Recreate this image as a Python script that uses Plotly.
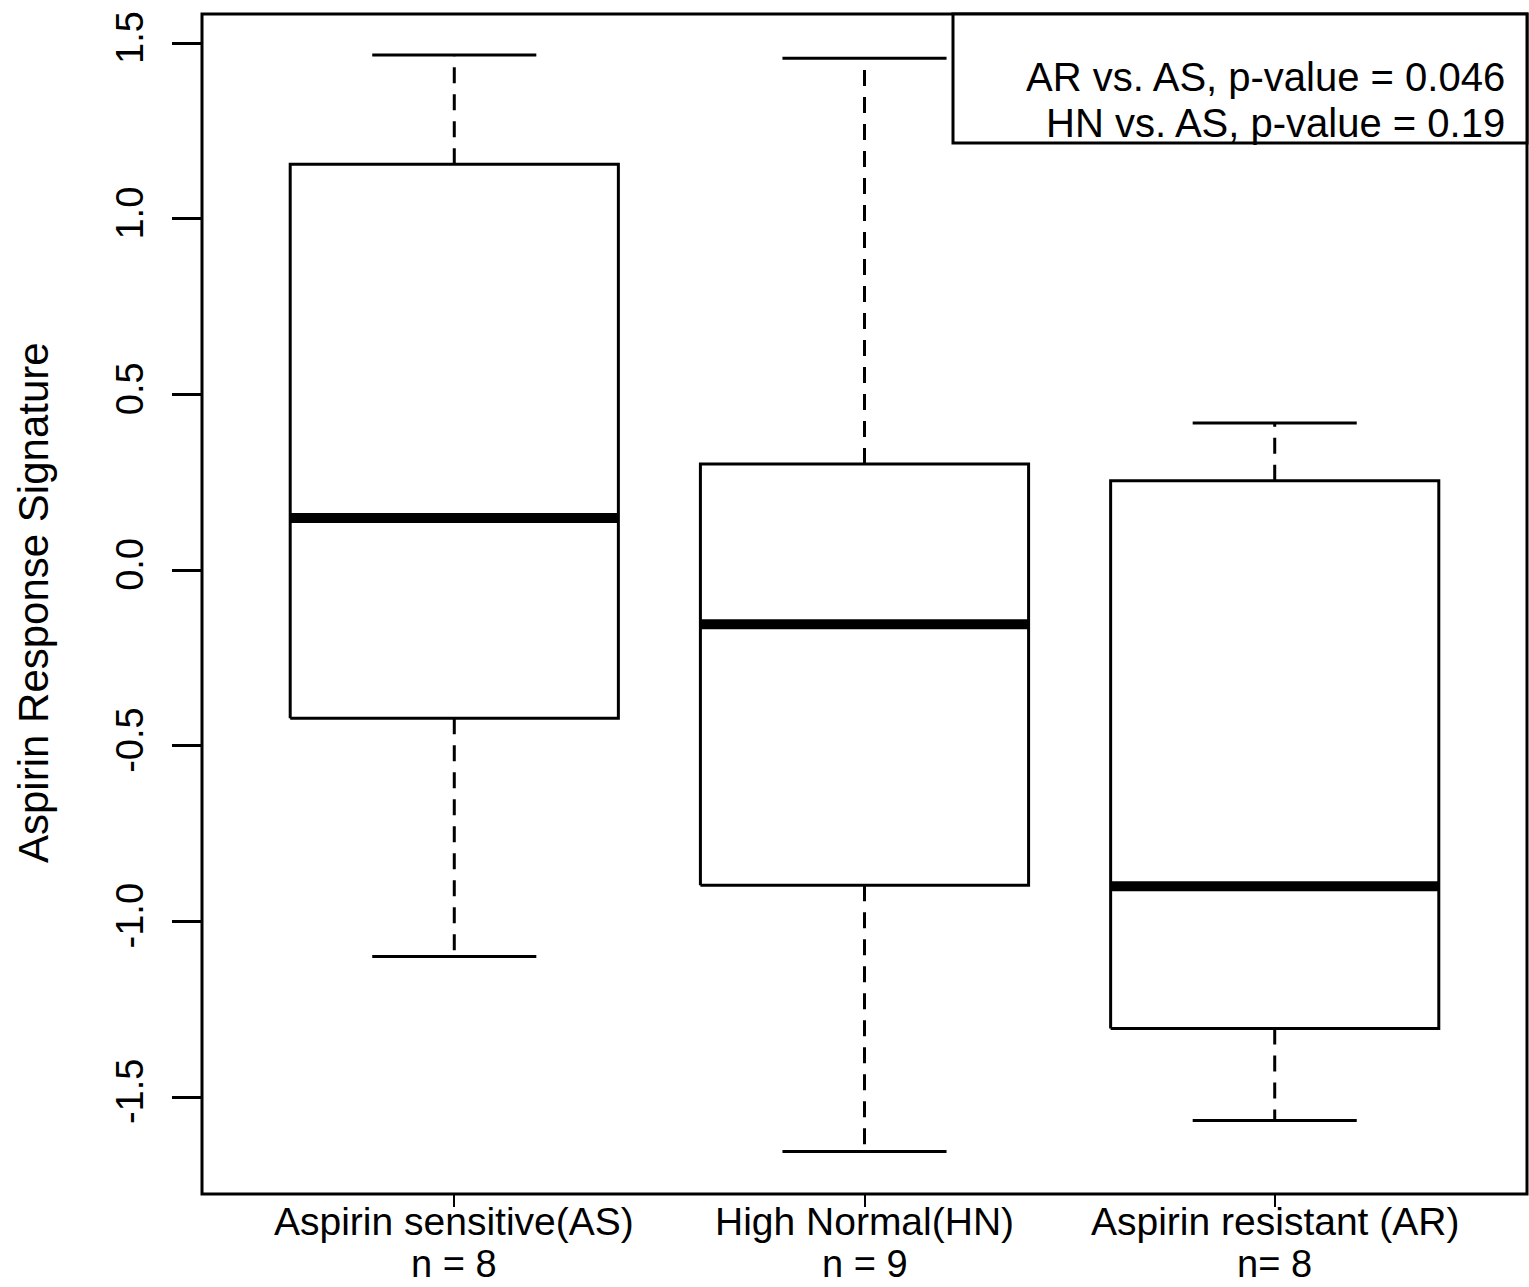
import plotly.graph_objects as go

# ---- data ----
categories = ["Aspirin sensitive(AS)", "High Normal(HN)", "Aspirin resistant (AR)"]
n_labels = ["n = 8", "n = 9", "n= 8"]
lower_whisker = [-1.10, -1.655, -1.567]
q1 = [-0.422, -0.897, -1.305]
median = [0.148, -0.154, -0.900]
q3 = [1.155, 0.302, 0.254]
upper_whisker = [1.466, 1.457, 0.419]
legend_lines = ["AR vs. AS, p-value = 0.046", "HN vs. AS, p-value = 0.19"]
y_ticks = [-1.5, -1.0, -0.5, 0.0, 0.5, 1.0, 1.5]
y_ticktext = ["-1.5", "-1.0", "-0.5", "0.0", "0.5", "1.0", "1.5"]

FONT = "Liberation Sans, Arial, sans-serif"
BOX_HALF = 0.4
CAP_HALF = 0.2
LW = 3

W, H = 1529, 1287
ML, MR, MT, MB = 202, 2, 14, 93
PW = W - ML - MR
PH = H - MT - MB


def py(pix):
    """pixel row -> paper y"""
    return 1 - (pix - MT) / PH


def px(pix):
    return (pix - ML) / PW


fig = go.Figure()

for i in range(len(categories)):
    x = i + 1
    # dashed whiskers
    fig.add_trace(go.Scatter(x=[x, x], y=[q3[i], upper_whisker[i]], mode="lines",
                             line=dict(color="black", width=LW, dash="16px,11px"),
                             hoverinfo="skip", showlegend=False))
    fig.add_trace(go.Scatter(x=[x, x], y=[q1[i], lower_whisker[i]], mode="lines",
                             line=dict(color="black", width=LW, dash="16px,11px"),
                             hoverinfo="skip", showlegend=False))
    # caps
    for yv in (upper_whisker[i], lower_whisker[i]):
        fig.add_trace(go.Scatter(x=[x - CAP_HALF, x + CAP_HALF], y=[yv, yv], mode="lines",
                                 line=dict(color="black", width=LW),
                                 hoverinfo="skip", showlegend=False))
    # box
    fig.add_trace(go.Scatter(x=[x - BOX_HALF, x + BOX_HALF, x + BOX_HALF, x - BOX_HALF, x - BOX_HALF],
                             y=[q1[i], q1[i], q3[i], q3[i], q1[i]], mode="lines",
                             line=dict(color="black", width=LW),
                             hoverinfo="skip", showlegend=False))
    # median
    fig.add_trace(go.Scatter(x=[x - BOX_HALF, x + BOX_HALF], y=[median[i], median[i]], mode="lines",
                             line=dict(color="black", width=10),
                             hoverinfo="skip", showlegend=False))

fig.update_layout(
    width=W, height=H,
    margin=dict(l=ML, r=MR, t=MT, b=MB, autoexpand=False),
    paper_bgcolor="white", plot_bgcolor="white",
    font=dict(family=FONT, size=40, color="black"),
    showlegend=False,
    xaxis=dict(range=[0.385, 3.615], tickvals=[1, 2, 3], ticktext=["", "", ""],
               ticks="outside", ticklen=12, tickwidth=2, tickcolor="black",
               showgrid=False, zeroline=False, showline=False, automargin=False),
    yaxis=dict(range=[-1.776, 1.583], tickvals=y_ticks, ticktext=y_ticktext,
               ticks="outside", ticklen=29, tickwidth=3, tickcolor="black",
               tickangle=-90, ticklabelstandoff=14,
               showgrid=False, zeroline=False, showline=False,
               tickfont=dict(family=FONT, size=38), automargin=False),
)

# category labels (two lines) under each tick
for i, (c, n) in enumerate(zip(categories, n_labels)):
    fig.add_annotation(xref="x", yref="paper", x=i + 1, y=py(1221), text=c, showarrow=False,
                       xanchor="center", yanchor="middle",
                       font=dict(family=FONT, size=39, color="black"))
    fig.add_annotation(xref="x", yref="paper", x=i + 1, y=py(1264), text=n, showarrow=False,
                       xanchor="center", yanchor="middle",
                       font=dict(family=FONT, size=38, color="black"))

# plot frame
fig.add_shape(type="rect", xref="paper", yref="paper", x0=0, x1=1, y0=0, y1=1,
              line=dict(color="black", width=3))

# legend box
fig.add_shape(type="rect", xref="paper", yref="paper", x0=px(953), x1=1, y0=py(143), y1=1,
              line=dict(color="black", width=3), fillcolor="white")
for txt, yy in zip(legend_lines, [77, 123]):
    fig.add_annotation(xref="paper", yref="paper", x=px(1507), y=py(yy),
                       text=txt, showarrow=False, xanchor="right", yanchor="middle",
                       font=dict(family=FONT, size=40, color="black"))

# y axis title
fig.add_annotation(xref="paper", yref="paper", x=px(33), y=py(603),
                   text="Aspirin Response Signature", textangle=-90, showarrow=False,
                   xanchor="center", yanchor="middle",
                   font=dict(family=FONT, size=42, color="black"))

fig.write_html("out.html", config={"displayModeBar": False},
               post_script="document.body.style.margin='0';")
